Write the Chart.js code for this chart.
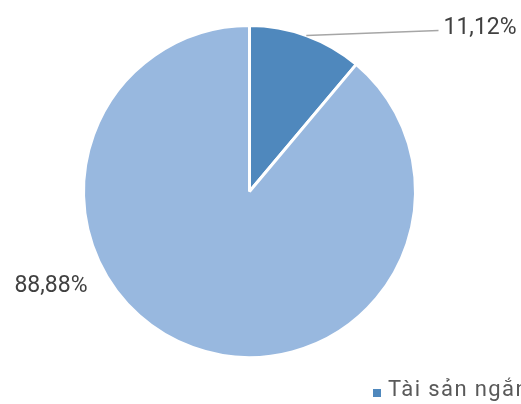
<!DOCTYPE html>
<html>
<head>
<meta charset="utf-8">
<script src="https://cdn.jsdelivr.net/npm/chart.js@4"></script>
<style>
  html, body { margin: 0; padding: 0; background: #ffffff; overflow: hidden; }
  canvas { display: block; }
</style>
</head>
<body>
<canvas id="c" width="521" height="404"></canvas>
<script>
// Asset structure (percent of total assets)
const categories = ['Tài sản ngắn hạn', 'Tài sản dài hạn'];
const shares = [11.12, 88.88];
const shareLabels = ['11,12%', '88,88%'];
const sliceColors = ['#4F88BD', '#98B8DF'];

const labelFont = '23px Roboto';
const textColor = '#404040';

// Draws the outside value labels, the leader line and the legend entry
const annotate = {
  id: 'annotate',
  afterDraw(chart) {
    const ctx = chart.ctx;
    const arcs = chart.getDatasetMeta(0).data;
    ctx.save();
    ctx.font = labelFont;
    ctx.fillStyle = textColor;
    ctx.textBaseline = 'middle';

    // small slice: leader line from arc edge to label
    const a0 = arcs[0];
    const mid0 = (a0.startAngle + a0.endAngle) / 2;
    const sx = a0.x + Math.cos(mid0) * a0.outerRadius;
    const sy = a0.y + Math.sin(mid0) * a0.outerRadius;
    const ex = a0.x + 189, ey = a0.y - 161;
    ctx.strokeStyle = '#A6A6A6';
    ctx.lineWidth = 1.5;
    ctx.beginPath();
    ctx.moveTo(sx, sy);
    ctx.lineTo(ex, ey);
    ctx.stroke();
    ctx.textAlign = 'left';
    ctx.fillText(shareLabels[0], ex + 5, ey - 2);

    // large slice label on the left
    const a1 = arcs[1];
    ctx.textAlign = 'right';
    ctx.fillText(shareLabels[1], a1.x - 162, a1.y + 95);

    // legend (first entry)
    ctx.fillStyle = sliceColors[0];
    ctx.fillRect(373, 389, 8, 8);
    ctx.font = '22px Roboto';
    ctx.letterSpacing = '1.4px';
    ctx.fillStyle = '#595959';
    ctx.textAlign = 'left';
    ctx.textBaseline = 'alphabetic';
    ctx.fillText(categories[0], 388, 396);
    ctx.restore();
  }
};

new Chart(document.getElementById('c'), {
  type: 'pie',
  data: {
    labels: categories,
    datasets: [{
      data: shares,
      backgroundColor: sliceColors,
      borderColor: '#ffffff',
      borderWidth: 3
    }]
  },
  options: {
    responsive: false,
    animation: false,
    layout: { padding: { left: 82, right: 104, top: 24, bottom: 45 } },
    plugins: {
      legend: { display: false },
      tooltip: { enabled: false }
    }
  },
  plugins: [annotate]
});
</script>
</body>
</html>
